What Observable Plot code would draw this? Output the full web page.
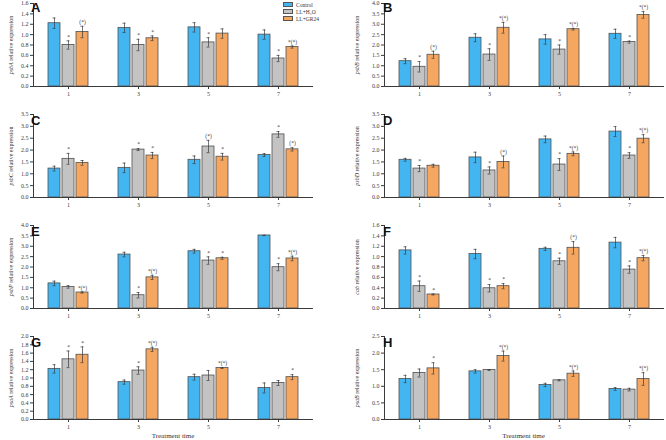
<!DOCTYPE html>
<html><head><meta charset="utf-8">
<script src="https://cdn.jsdelivr.net/npm/d3@7"></script>
<script src="https://cdn.jsdelivr.net/npm/@observablehq/plot@0.6"></script>
<style>
body{margin:0;background:#fff;}
#chart{position:relative;width:666px;height:440px;overflow:hidden;font-family:"Liberation Serif","Times New Roman",serif;color:#333;}
.panel{position:absolute;}
.ylab{position:absolute;font-size:6px;white-space:nowrap;transform:translate(-50%,-50%) rotate(-90deg);color:#333;}
.letter{position:absolute;font:bold 13px/13px "Liberation Sans",Arial,sans-serif;color:#111;}
.leg{position:absolute;left:283px;font-size:5.5px;line-height:6px;}
.leg span.box{position:absolute;left:0;width:10px;height:5px;border:0.8px solid #555;box-sizing:border-box;}
.leg span.txt{position:absolute;left:13px;top:-0.5px;white-space:nowrap;}
.xlab{position:absolute;font-size:7px;transform:translateX(-50%);white-space:nowrap;}
</style></head><body><div id="chart"></div>
<script>
const times = [1, 3, 5, 7];
const series = ["Control", "LL+H2O", "LL+GR24"];
const colors = ["#43B6F2", "#C3C3C3", "#F5A762"];

// mean values: rows = time 1,3,5,7; cols = Control, LL+H2O, LL+GR24
const psbA_mean = [[1.22, 0.80, 1.05], [1.13, 0.80, 0.93], [1.14, 0.85, 1.02], [1.00, 0.54, 0.76]];
const psbA_sd   = [[0.10, 0.08, 0.11], [0.09, 0.11, 0.045], [0.09, 0.09, 0.09], [0.09, 0.06, 0.02]];
const psbA_sig  = [["", "*", "(*)"], ["", "*", "*"], ["", "*", ""], ["", "*", "*(*)"]];

const psbB_mean = [[1.22, 0.95, 1.53], [2.35, 1.54, 2.83], [2.27, 1.78, 2.76], [2.54, 2.14, 3.45]];
const psbB_sd   = [[0.12, 0.25, 0.17], [0.19, 0.28, 0.26], [0.23, 0.22, 0.04], [0.22, 0.05, 0.16]];
const psbB_sig  = [["", "*", "(*)"], ["", "*", "*(*)"], ["", "*", "*(*)"], ["", "*", "*(*)"]];

const psbC_mean = [[1.22, 1.63, 1.46], [1.25, 2.02, 1.77], [1.59, 2.15, 1.72], [1.79, 2.66, 2.03]];
const psbC_sd   = [[0.10, 0.23, 0.10], [0.20, 0.04, 0.13], [0.16, 0.26, 0.14], [0.06, 0.12, 0.07]];
const psbC_sig  = [["", "*", ""], ["", "*", "*"], ["", "(*)", "*"], ["", "*", "(*)"]];

const psbD_mean = [[1.59, 1.22, 1.34], [1.69, 1.14, 1.50], [2.45, 1.39, 1.84], [2.78, 1.77, 2.48]];
const psbD_sd   = [[0.06, 0.13, 0.06], [0.22, 0.15, 0.25], [0.14, 0.25, 0.08], [0.21, 0.12, 0.17]];
const psbD_sig  = [["", "*", ""], ["", "*", "(*)"], ["", "*", "*(*)"], ["", "*", "*(*)"]];

const psbP_mean = [[1.21, 1.04, 0.77], [2.60, 0.64, 1.50], [2.76, 2.31, 2.42], [3.52, 1.99, 2.41]];
const psbP_sd   = [[0.11, 0.06, 0.03], [0.11, 0.13, 0.10], [0.09, 0.18, 0.05], [0.01, 0.17, 0.11]];
const psbP_sig  = [["", "", "*(*)"], ["", "*", "*(*)"], ["", "*", "*"], ["", "*", "*(*)"]];

const cab_mean  = [[1.12, 0.43, 0.27], [1.05, 0.39, 0.43], [1.15, 0.91, 1.17], [1.27, 0.75, 0.97]];
const cab_sd    = [[0.07, 0.10, 0.01], [0.09, 0.07, 0.05], [0.03, 0.06, 0.12], [0.10, 0.07, 0.05]];
const cab_sig   = [["", "*", "*"], ["", "*", "*"], ["", "*", "(*)"], ["", "*", "*(*)"]];

const psaA_mean = [[1.22, 1.45, 1.56], [0.90, 1.18, 1.69], [1.02, 1.06, 1.24], [0.76, 0.88, 1.02]];
const psaA_sd   = [[0.10, 0.20, 0.19], [0.05, 0.09, 0.05], [0.07, 0.12, 0.01], [0.12, 0.06, 0.06]];
const psaA_sig  = [["", "*", "*"], ["", "*", "*(*)"], ["", "", "*(*)"], ["", "", "*"]];

const psaB_mean = [[1.22, 1.40, 1.54], [1.45, 1.49, 1.91], [1.04, 1.18, 1.38], [0.92, 0.90, 1.22]];
const psaB_sd   = [[0.11, 0.12, 0.17], [0.05, 0.015, 0.15], [0.05, 0.015, 0.08], [0.04, 0.04, 0.19]];
const psaB_sig  = [["", "", "*"], ["", "", "*(*)"], ["", "", "*(*)"], ["", "", "*(*)"]];

const panelLetters = ["A", "B", "C", "D", "E", "F", "G", "H"];
const panelGenes = ["psbA", "psbB", "psbC", "psbD", "psbP", "cab", "psaA", "psaB"];
const yMax  = [1.6, 4.0, 3.5, 3.5, 4.0, 1.6, 2.0, 2.5];
const yStep = [0.2, 0.5, 0.5, 0.5, 0.5, 0.2, 0.2, 0.5];
const means = [psbA_mean, psbB_mean, psbC_mean, psbD_mean, psbP_mean, cab_mean, psaA_mean, psaB_mean];
const sds   = [psbA_sd, psbB_sd, psbC_sd, psbD_sd, psbP_sd, cab_sd, psaA_sd, psaB_sd];
const sigs  = [psbA_sig, psbB_sig, psbC_sig, psbD_sig, psbP_sig, cab_sig, psaA_sig, psaB_sig];

const chart = document.getElementById("chart");

function rows(mean, sd, sig) {
  const out = [];
  times.forEach((t, i) => series.forEach((s, j) =>
    out.push({time: t, series: s, value: mean[i][j], sd: sd[i][j], sig: sig[i][j]})));
  return out;
}

panelLetters.forEach((L, k) => {
  const col = k % 2, row = Math.floor(k / 2);
  const bottom = row === 3;
  const data = rows(means[k], sds[k], sigs[k]);
  const ticks = d3.range(0, yMax[k] + 1e-9, yStep[k]);
  const mL = col === 0 ? 33 : 49, mR = col === 0 ? 20 : 1;
  const height = bottom ? 107 : 104;
  const ink = "#3a3a3a";
  const svg = Plot.plot({
    width: 333, height,
    marginLeft: mL, marginRight: mR, marginTop: 3, marginBottom: height - 86,
    style: {fontFamily: "Liberation Serif, Times New Roman, serif", fontSize: "6px", color: ink, background: "transparent", overflow: "visible"},
    fx: {domain: times, padding: 0, label: null, tickSize: 3, tickPadding: 2},
    x: {domain: series, paddingInner: 0.133, paddingOuter: 0.9, axis: null},
    y: {domain: [0, yMax[k]], ticks, tickFormat: ".1f", line: true, label: null, tickSize: 3, tickPadding: 2},
    color: {domain: series, range: colors},
    marks: [
      Plot.barY(data, {fx: "time", x: "series", y: "value", fill: "series", stroke: "#505050", strokeWidth: 0.8}),
      Plot.ruleX(data, {fx: "time", x: "series", y1: d => d.value - d.sd, y2: d => d.value + d.sd, stroke: ink, strokeWidth: 0.7}),
      Plot.tickY(data, {fx: "time", x: "series", y: d => d.value + d.sd, insetLeft: 4.5, insetRight: 4.5, stroke: ink, strokeWidth: 0.7}),
      Plot.tickY(data, {fx: "time", x: "series", y: d => d.value - d.sd, insetLeft: 4.5, insetRight: 4.5, stroke: ink, strokeWidth: 0.7}),
      Plot.text(data.filter(d => d.sig), {fx: "time", x: "series", y: d => d.value + d.sd, text: "sig", dy: -4, fontSize: 5.5, fill: ink}),
      Plot.ruleY([0], {stroke: ink, strokeWidth: 1})
    ]
  });
  const wrap = document.createElement("div");
  wrap.className = "panel";
  wrap.style.left = (col * 333) + "px";
  wrap.style.top = (row * 111) + "px";
  wrap.appendChild(svg);
  chart.appendChild(wrap);

  // panel letter
  const letter = document.createElement("div");
  letter.className = "letter";
  letter.textContent = L;
  letter.style.left = (col === 0 ? 31 : 383) + "px";
  letter.style.top = (row * 111 + (row === 0 ? 0.5 : 3)) + "px";
  chart.appendChild(letter);

  // y label with italic gene name
  const yl = document.createElement("div");
  yl.className = "ylab";
  const gi = document.createElement("i");
  gi.textContent = panelGenes[k];
  yl.appendChild(gi);
  yl.appendChild(document.createTextNode(" relative expression"));
  yl.style.left = (col === 0 ? 11 : 357) + "px";
  yl.style.top = (row * 111 + 45) + "px";
  chart.appendChild(yl);

  if (bottom) {
    const xl = document.createElement("div");
    xl.className = "xlab";
    xl.textContent = "Treatment time";
    xl.style.left = (col * 333 + mL + (333 - mL - mR) / 2) + "px";
    xl.style.top = "432px";
    chart.appendChild(xl);
  }
});

// legend
const legendLabels = ["Control", "LL+H\u2082O", "LL+GR24"];
legendLabels.forEach((lab, i) => {
  const d = document.createElement("div");
  d.className = "leg";
  d.style.top = (2 + i * 7) + "px";
  const b = document.createElement("span");
  b.className = "box";
  b.style.background = colors[i];
  const t = document.createElement("span");
  t.className = "txt";
  t.textContent = lab;
  d.appendChild(b); d.appendChild(t);
  chart.appendChild(d);
});
</script>
</body></html>
